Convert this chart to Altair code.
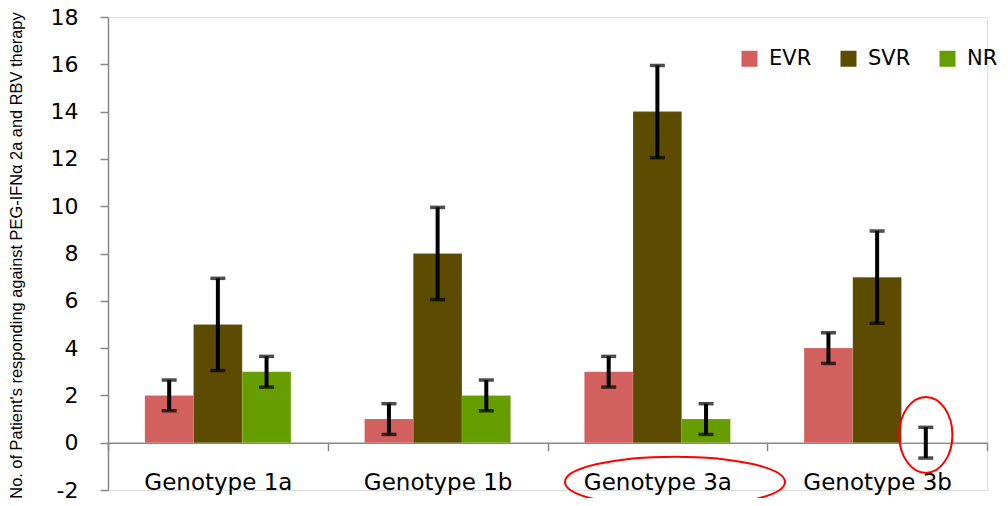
import altair as alt
import pandas as pd

genotypes = ["Genotype 1a", "Genotype 1b", "Genotype 3a", "Genotype 3b"]
series = ["EVR", "SVR", "NR"]
colors = ["#D1605E", "#5D4B00", "#669E00"]

evr = [2, 1, 3, 4]
svr = [5, 8, 14, 7]
nr = [3, 2, 1, 0]

evr_err = [0.65, 0.65, 0.65, 0.65]
svr_err = [1.95, 1.95, 1.95, 1.95]
nr_err = [0.65, 0.65, 0.65, 0.65]

y_ticks = [-2, 0, 2, 4, 6, 8, 10, 12, 14, 16, 18]

# annotation ellipses (red circles in the figure)
ann1_cat = ["Genotype 3a"]
ann1_y = [-1.66]
ann2_cat = ["Genotype 3b"]
ann2_series = ["NR"]
ann2_y = [0.33]

rows = []
for s, vals, errs in [("EVR", evr, evr_err), ("SVR", svr, svr_err), ("NR", nr, nr_err)]:
    for g, v, e in zip(genotypes, vals, errs):
        rows.append({"genotype": g, "series": s, "value": v, "lo": v - e, "hi": v + e})
df = pd.DataFrame(rows)

ann1 = pd.DataFrame({"genotype": ann1_cat, "y": ann1_y})
ann2 = pd.DataFrame({"genotype": ann2_cat, "series": ann2_series, "y": ann2_y})

W, H = 879, 473
k = 0.5523
def ellipse_path(rx, ry):
    return (f"M {rx} 0 C {rx} {ry*k} {rx*k} {ry} 0 {ry} "
            f"C {-rx*k} {ry} {-rx} {ry*k} {-rx} 0 "
            f"C {-rx} {-ry*k} {-rx*k} {-ry} 0 {-ry} "
            f"C {rx*k} {-ry} {rx} {-ry*k} {rx} 0 Z")

x_enc = alt.X("genotype:N", sort=genotypes, title=None,
              scale=alt.Scale(paddingInner=0, paddingOuter=0),
              axis=alt.Axis(labelAngle=0, labelFont="DejaVu Sans", labelFontSize=23,
                            labelColor="black", labelPadding=21, tickBand="extent",
                            tickSize=8, tickColor="#888888", domainColor="#888888",
                            domainWidth=1.5, tickWidth=1.5, offset=-H / 10,
                            labelBaseline="top"))
xoff_enc = alt.XOffset("series:N", sort=series,
                       scale=alt.Scale(paddingInner=0, paddingOuter=0.757))
y_scale = alt.Scale(domain=[-2, 18], nice=False, zero=False)
y_axis = alt.Axis(values=y_ticks, grid=False, labelFont="DejaVu Sans", labelFontSize=22,
                  labelColor="black", labelPadding=22, tickSize=8, tickColor="#888888",
                  domainColor="#888888", domainWidth=1.5, tickWidth=1.5,
                  labelExpr="'' + datum.value",
                  title="No. of Patient's responding against  PEG-IFNα 2a and RBV therapy",
                  titleFont="Liberation Sans", titleFontSize=16.4, titleFontWeight="normal",
                  titleColor="black", titleAngle=270, titleX=-92, titleY=238,
                  titleAlign="center", titleBaseline="middle")

bars = alt.Chart(df).mark_bar(stroke="white", strokeOpacity=0.25, strokeWidth=0.5).encode(
    x=x_enc,
    xOffset=xoff_enc,
    y=alt.Y("value:Q", scale=y_scale, axis=y_axis),
    color=alt.Color("series:N", sort=series,
                    scale=alt.Scale(domain=series, range=colors),
                    legend=alt.Legend(title=None, orient="none", legendX=631, legendY=31,
                                      direction="horizontal", symbolType="square",
                                      symbolSize=256, symbolStrokeWidth=0,
                                      labelFont="DejaVu Sans", labelFontSize=21,
                                      labelColor="black", labelOffset=9,
                                      columnPadding=26, padding=0, symbolOpacity=1)),
)

err_rule = alt.Chart(df).mark_rule(color="black", strokeWidth=4).encode(
    x=alt.X("genotype:N", sort=genotypes),
    xOffset=alt.XOffset("series:N", sort=series),
    y=alt.Y("lo:Q"),
    y2="hi:Q",
)

cap_lo = alt.Chart(df).mark_tick(color="black", size=15, thickness=3.5, orient="horizontal").encode(
    x=alt.X("genotype:N", sort=genotypes),
    xOffset=alt.XOffset("series:N", sort=series),
    y=alt.Y("lo:Q"),
)
cap_hi = alt.Chart(df).mark_tick(color="black", size=15, thickness=3.5, orient="horizontal").encode(
    x=alt.X("genotype:N", sort=genotypes),
    xOffset=alt.XOffset("series:N", sort=series),
    y=alt.Y("hi:Q"),
)

ell1 = alt.Chart(ann1).mark_point(shape=ellipse_path(1, 0.23), size=220 * 220, filled=False,
                                  stroke="red", strokeWidth=2, opacity=1, xOffset=17.6).encode(
    x=alt.X("genotype:N", sort=genotypes),
    y=alt.Y("y:Q"),
)
ell2 = alt.Chart(ann2).mark_point(shape=ellipse_path(0.70, 1), size=76 * 76, filled=False,
                                  stroke="red", strokeWidth=2, opacity=1).encode(
    x=alt.X("genotype:N", sort=genotypes),
    xOffset=alt.XOffset("series:N", sort=series),
    y=alt.Y("y:Q"),
)

chart = alt.layer(bars, err_rule, cap_lo, cap_hi, ell1, ell2).properties(
    width=W, height=H,
    autosize=alt.AutoSizeParams(type="none"),
    padding={"left": 100, "top": 9, "right": 13, "bottom": 8},
).configure_view(strokeWidth=0).configure(background="white")

chart.save("out.html", embed_options={"renderer": "svg", "actions": False})
